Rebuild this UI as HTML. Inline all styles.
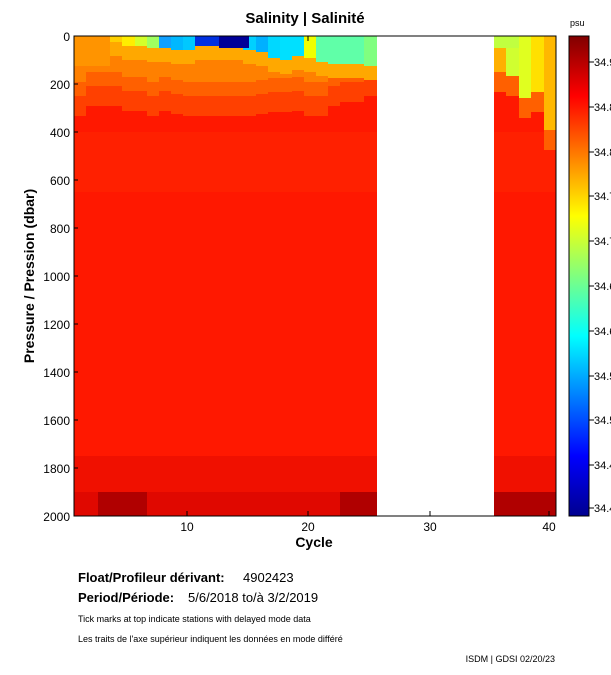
<!DOCTYPE html>
<html><head><meta charset="utf-8"><style>
body{margin:0;background:#fff;width:611px;height:675px;overflow:hidden}
svg{display:block}
text{font-family:"Liberation Sans",sans-serif;fill:#000}
</style></head><body>
<svg id="s" width="611" height="675" xmlns="http://www.w3.org/2000/svg">
<defs>
<linearGradient id="cb" x1="0" y1="1" x2="0" y2="0">
<stop offset="0" stop-color="#00008f"/>
<stop offset="0.125" stop-color="#0000ff"/>
<stop offset="0.375" stop-color="#00ffff"/>
<stop offset="0.625" stop-color="#ffff00"/>
<stop offset="0.875" stop-color="#ff0000"/>
<stop offset="1" stop-color="#800000"/>
</linearGradient>
</defs>
<g id="cols" shape-rendering="crispEdges"></g>
<rect x="74" y="36" width="482" height="480" fill="none" stroke="#000" stroke-width="1"/>
<g stroke="#000" stroke-width="1">
<line x1="74" y1="84" x2="78" y2="84"/><line x1="74" y1="132" x2="78" y2="132"/>
<line x1="74" y1="180" x2="78" y2="180"/><line x1="74" y1="228" x2="78" y2="228"/>
<line x1="74" y1="276" x2="78" y2="276"/><line x1="74" y1="324" x2="78" y2="324"/>
<line x1="74" y1="372" x2="78" y2="372"/><line x1="74" y1="420" x2="78" y2="420"/>
<line x1="74" y1="468" x2="78" y2="468"/>
<line x1="187" y1="516" x2="187" y2="511"/><line x1="308" y1="516" x2="308" y2="511"/>
<line x1="430" y1="516" x2="430" y2="511"/><line x1="549" y1="516" x2="549" y2="511"/>
<line x1="308" y1="36" x2="308" y2="41"/>
</g>
<g font-size="12" text-anchor="end">
<text x="70" y="41">0</text><text x="70" y="89">200</text><text x="70" y="137">400</text>
<text x="70" y="185">600</text><text x="70" y="233">800</text><text x="70" y="281">1000</text>
<text x="70" y="329">1200</text><text x="70" y="377">1400</text><text x="70" y="425">1600</text>
<text x="70" y="473">1800</text><text x="70" y="521">2000</text>
</g>
<g font-size="12" text-anchor="middle">
<text x="187" y="531">10</text><text x="308" y="531">20</text><text x="430" y="531">30</text><text x="549" y="531">40</text>
</g>
<text x="305" y="23" font-size="15" font-weight="bold" text-anchor="middle">Salinity | Salinité</text>
<text x="314" y="547" font-size="14" font-weight="bold" text-anchor="middle">Cycle</text>
<text transform="translate(34,276) rotate(-90)" font-size="14" font-weight="bold" text-anchor="middle">Pressure / Pression (dbar)</text>
<rect x="569" y="36" width="20" height="480" fill="url(#cb)" stroke="#000"/>
<text x="570" y="26" font-size="9">psu</text>
<g stroke="#000"><line x1="589" y1="62" x2="594" y2="62"/><line x1="589" y1="107" x2="594" y2="107"/><line x1="589" y1="152" x2="594" y2="152"/><line x1="589" y1="196" x2="594" y2="196"/><line x1="589" y1="241" x2="594" y2="241"/><line x1="589" y1="286" x2="594" y2="286"/><line x1="589" y1="331" x2="594" y2="331"/><line x1="589" y1="376" x2="594" y2="376"/><line x1="589" y1="420" x2="594" y2="420"/><line x1="589" y1="465" x2="594" y2="465"/><line x1="589" y1="508" x2="594" y2="508"/></g>
<g font-size="11">
<text x="594" y="66">34.9</text><text x="594" y="111">34.8</text><text x="594" y="156">34.8</text>
<text x="594" y="200">34.7</text><text x="594" y="245">34.7</text><text x="594" y="290">34.6</text>
<text x="594" y="335">34.6</text><text x="594" y="380">34.5</text><text x="594" y="424">34.5</text>
<text x="594" y="469">34.4</text><text x="594" y="512">34.4</text>
</g>
<text x="78" y="582" font-size="13" font-weight="bold">Float/Profileur dérivant:</text>
<text x="243" y="582" font-size="13">4902423</text>
<text x="78" y="602" font-size="13" font-weight="bold">Period/Période:</text>
<text x="188" y="602" font-size="13">5/6/2018  to/à  3/2/2019</text>
<text x="78" y="622" font-size="9">Tick marks at top indicate stations with delayed mode data</text>
<text x="78" y="642" font-size="9">Les traits de l'axe supérieur indiquent les données en mode différé</text>
<text x="555" y="662" font-size="9" text-anchor="end">ISDM | GDSI  02/20/23</text>
</svg>
<script>
(function(){
var topc=["#ff9400","#ff9400","#ff9a00","#ffd000","#ffee00","#d4ff2a","#a0ff60","#10a0ff","#00b8ff","#00c8ff","#0040ff","#0030e8","#0010d0","#000090","#00d0ff","#00b0ff","#00d8ff","#00e0ff","#00e0ff","#f0ff00","#60ffa8","#60ffa8","#60ffa8","#60ffa8","#80ff80"];
var ml=[0,0,0,6,10,10,12,12,14,14,10,10,10,10,14,16,22,24,20,22,26,28,28,28,30];
var bot=[60,50,50,50,55,55,60,55,58,60,60,60,60,60,60,58,56,56,55,60,60,50,46,46,40];
var g=document.getElementById('cols'),h="";
function r(x,y,w,hh,c){h+='<rect x="'+x+'" y="'+y+'" width="'+w+'" height="'+hh+'" fill="'+c+'"/>';}
function col(x,w,dk){
 r(x,36,w,480,"#ff1800");
 r(x,36+96,w,60,"#ff2000");
 r(x,36+420,w,60,"#f01000");
 r(x,36+456,w,24,dk?"#b00000":"#e00800");
}
for(var i=0;i<25;i++){
 var x=Math.round(74+i*12.1),w=Math.round(74+(i+1)*12.1)-x;
 col(x,w,(i>=2&&i<=5)||i>=22);
 r(x,36,w,bot[i]+20,"#ff4000");
 r(x,36,w,bot[i],"#ff6000");
 r(x,36,w,bot[i]-14,"#ff8000");
 r(x,36,w,ml[i]+14,"#ffa800");
 if(ml[i]>0) r(x,36,w,ml[i],topc[i]); else r(x,36,w,16,topc[i]);
 if(i<3)r(x,36,w,30,"#ff9400");
}
var t2=[["#ffb000",36],["#d0ff30",40],["#e0ff20",62],["#ffe000",56],["#ffb800",94]];
for(var j=0;j<5;j++){
 var x=Math.round(494+j*12.4),w=Math.round(494+(j+1)*12.4)-x;
 col(x,w,true);
 r(x,36,w,t2[j][1]+20,"#ff6000");
 r(x,36,w,t2[j][1],t2[j][0]);
 if(j<2)r(x,36,w,12,"#c0ff40");
}
r(195,36,48,10,"#0030e0");r(219,36,30,12,"#000098");
g.innerHTML=h;
})();
</script>
</body></html>
